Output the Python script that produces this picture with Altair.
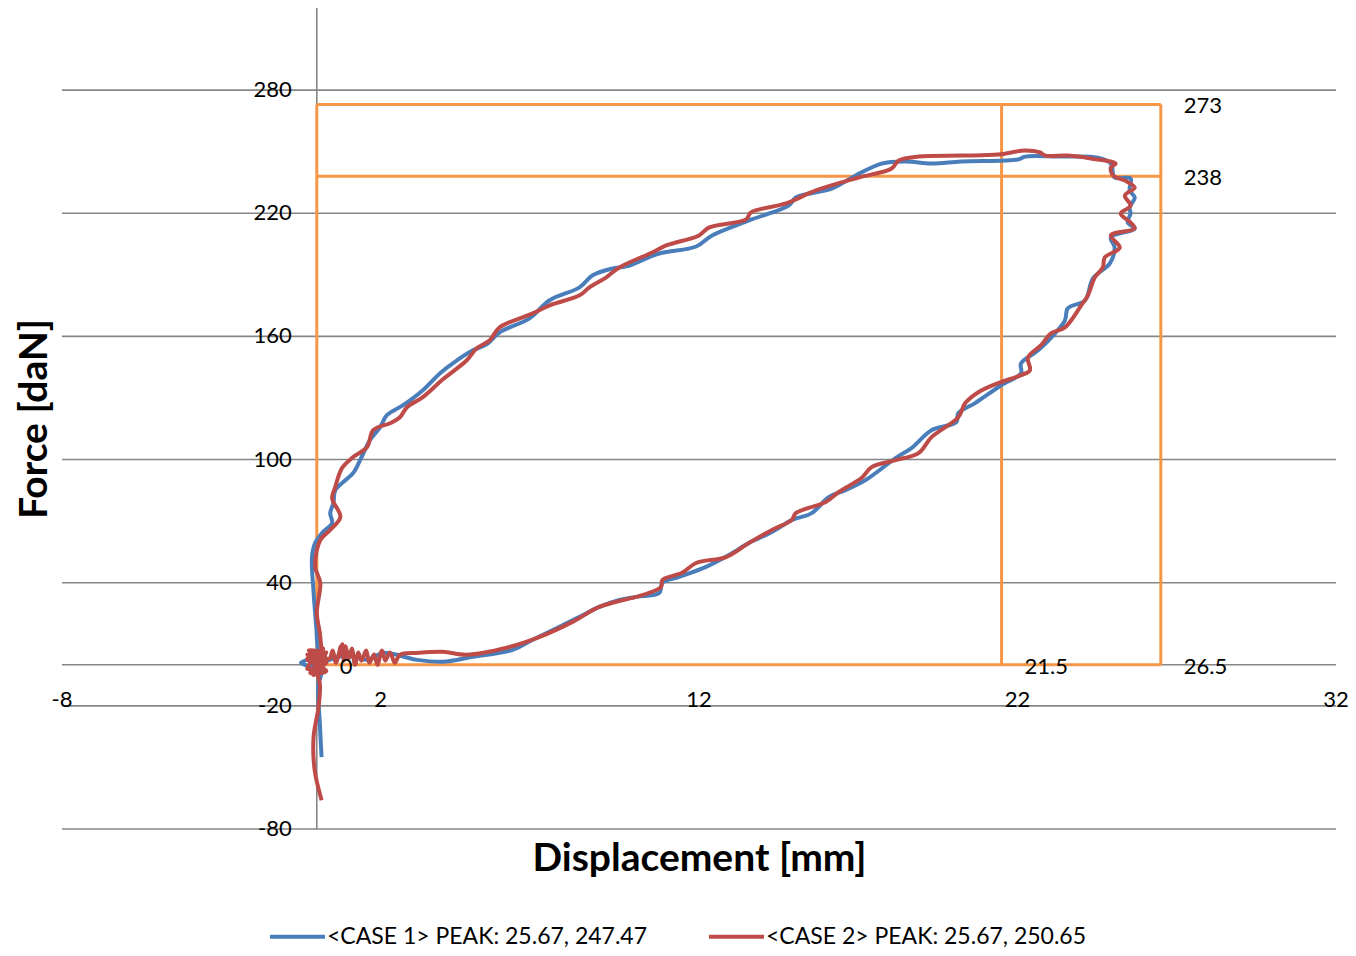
import altair as alt
import pandas as pd

# ---------------- data ----------------
SERIES_NAMES = ["<CASE 1> PEAK: 25.67, 247.47", "<CASE 2> PEAK: 25.67, 250.65"]
SERIES_COLORS = ["#4A7EBB", "#BE4B48"]

X_TICKS = [-8, 2, 12, 22, 32]
Y_TICKS = [-80, -20, 40, 100, 160, 220, 280]
ZERO_LINE = [0]

# guide box (orange) : segments x, y, x2, y2
BOX_X = [0, 21.5, 26.5, 0, 0, 0]
BOX_Y = [0, 0, 0, 0, 238, 273]
BOX_X2 = [0, 21.5, 26.5, 26.5, 26.5, 26.5]
BOX_Y2 = [273, 273, 273, 0, 238, 273]

NOTE_X = [0, 21.5, 26.5, 26.5, 26.5]
NOTE_Y = [0, 0, 0, 273, 238]
NOTE_TEXT = ["0", "21.5", "26.5", "273", "238"]

CASE1 = [
    (0.1, 0), (-0.2, 3), (0.2, -2), (-0.5, 1), (0.25, 4), (-0.2, -1), (0.0, 1), (0.0, 13.8),
    (-0.1, 35.0),
    (-0.15, 52.7), (-0.05, 59.4), (0.2, 64.8), (0.48, 69.1), (0.42, 73.9), (0.52, 78.8),
    (0.58, 85.1), (0.79, 88.5), (1.14, 93.4), (1.36, 99.7), (1.67, 109.5), (1.99, 115.8),
    (2.2, 121.6), (2.71, 126.5), (3.33, 133.8), (3.87, 142.1), (4.27, 146.9), (4.9, 153.2),
    (5.34, 156.2), (5.74, 162.0), (6.68, 168.8), (7.31, 177.6), (8.25, 183.9), (8.65, 189.7),
    (9.28, 193.1), (9.72, 194.1), (10.75, 200.4), (11.91, 203.8), (12.41, 209.2),
    (13.57, 216.5), (14.82, 223.8), (15.04, 227.7), (16.17, 232.0), (16.92, 238.4),
    (17.73, 244.2), (18.48, 245.2), (19.3, 244.2), (20.24, 245.2), (22.02, 246.2),
    (22.24, 247.6), (23.27, 247.6), (24.52, 247.1), (24.93, 244.2), (25.05, 237.4),
    (25.55, 236.9), (25.52, 231.1), (25.68, 227.7), (25.52, 222.8), (25.55, 219.9),
    (25.46, 215.5), (25.68, 212.6), (24.93, 208.2), (25.05, 203.3), (24.9, 195.6),
    (24.37, 188.3), (24.12, 177.6), (23.58, 173.7), (23.49, 167.8), (23.18, 161.5),
    (22.65, 153.2), (22.11, 146.9), (22.11, 142.0), (21.49, 136.2), (20.67, 127.5),
    (20.14, 122.6), (20.08, 118.2), (19.3, 114.3), (18.67, 105.6), (18.17, 100.7),
    (17.23, 90.0), (16.6, 85.1), (16.07, 81.7), (15.54, 73.9), (14.91, 70.5), (14.29, 64.7),
    (13.57, 59.4), (12.94, 53.5), (12.22, 47.7), (11.38, 42.8), (10.85, 39.9), (10.75, 35.0),
    (10.03, 33.1), (9.5, 31.6), (8.87, 28.2), (8.25, 23.4), (7.62, 18.5), (6.78, 12.2),
    (6.15, 7.3), (4.9, 3.9), (3.96, 1.5), (3.15, 2.4), (2.08, 5.8), (1.6, 2.5), (1.14, 3.9),
    (0.64, 3.9), (0.3, 2), (0.1, 4), (-0.2, 0), (0.15, -2), (0.05, -10), (0.1, -30),
    (0.15, -45),
]

CASE2 = [
    (0.0, 0), (0.3, 6), (-0.3, 3), (0.3, -3), (-0.2, -4), (0.25, 5), (-0.25, 7), (0.3, 1),
    (-0.3, -2), (0.2, 8), (-0.1, -5), (0.3, 3), (-0.3, 5), (0.1, 2),
    (0.11, 13.6), (0.0, 25.3), (0.11, 39.9), (-0.05, 47.7), (0.11, 60.8), (0.42, 65.7),
    (0.74, 72.0), (0.48, 81.2), (0.58, 86.6), (0.79, 95.8), (1.14, 101.2), (1.58, 106.1),
    (1.77, 114.3), (2.3, 117.7), (2.61, 120.6), (2.83, 125.5), (3.33, 130.4), (3.96, 139.1),
    (4.71, 148.4), (5.02, 154.2), (5.43, 158.1), (5.74, 164.4), (6.78, 171.2), (7.31, 175.1),
    (8.25, 180.0), (8.56, 183.9), (9.09, 188.8), (9.5, 193.6), (10.53, 200.9), (10.97, 204.3),
    (12.0, 209.2), (12.32, 213.1), (13.48, 217.0), (13.63, 220.4), (14.73, 224.8),
    (15.67, 231.1), (17.01, 237.4), (18.05, 241.8), (18.27, 245.7), (18.89, 247.6),
    (20.24, 248.1), (21.39, 248.6), (22.24, 250.6), (22.71, 249.6), (22.87, 248.1),
    (23.58, 248.1), (24.3, 246.7), (25.08, 244.2), (24.93, 242.3), (25.0, 238.4),
    (25.37, 235.9), (25.68, 232.5), (25.37, 228.6), (25.55, 223.7), (25.24, 219.9),
    (25.55, 215.5), (25.68, 212.6), (24.93, 209.2), (25.21, 203.3), (24.74, 198.5),
    (24.68, 193.6), (24.43, 188.8), (24.21, 180.0), (24.0, 175.1), (23.49, 164.4),
    (23.05, 161.5), (22.74, 155.7), (22.33, 149.8), (22.39, 143.5), (22.11, 141.1),
    (21.39, 137.2), (20.77, 132.8), (20.36, 127.5), (20.14, 120.6), (19.3, 110.9),
    (18.89, 103.1), (18.17, 99.7), (17.42, 96.3), (17.1, 91.0), (16.39, 84.2), (15.98, 79.3),
    (15.04, 73.9), (14.91, 70.5), (14.29, 65.7), (13.57, 59.4), (12.85, 52.5), (11.91, 49.6),
    (11.47, 44.8), (10.85, 41.3), (10.81, 37.9), (10.03, 33.1), (9.9, 32.6), (8.87, 28.2),
    (8.03, 20.9), (7.0, 13.6), (5.96, 8.3), (4.71, 4.9), (3.96, 6.3), (3.15, 5.8), (2.61, 4.9),
    (2.45, 1), (2.3, 6), (2.15, 2), (2.05, 7), (1.9, 0), (1.8, 5), (1.65, 1), (1.55, 7),
    (1.4, 2), (1.3, 6), (1.2, 0), (1.1, 8), (1.0, 3), (0.9, 9), (0.85, 2), (0.8, 10),
    (0.7, 4), (0.75, 9), (0.6, 1), (0.5, 7), (0.4, 3), (0.2, 2), (0.0, -1),
    (0.1, -10), (0.05, -21), (-0.1, -35), (-0.07, -51), (0.15, -66),
]

X_TITLE = "Displacement [mm]"
Y_TITLE = "Force [daN]"
FONT = "Lato"

# ---------------- frames ----------------
def series_frame(points, name):
    df = pd.DataFrame(points, columns=["x", "y"])
    df["i"] = range(len(df))
    df["series"] = name
    return df

df1 = series_frame(CASE1, SERIES_NAMES[0])
df2 = series_frame(CASE2, SERIES_NAMES[1])
grid_df = pd.DataFrame({"y": Y_TICKS + ZERO_LINE})
yaxis_df = pd.DataFrame({"x": [0]})
box_df = pd.DataFrame({"x": BOX_X, "y": BOX_Y, "x2": BOX_X2, "y2": BOX_Y2})
xlab_df = pd.DataFrame({"x": X_TICKS, "y": [-20] * len(X_TICKS), "t": [str(v) for v in X_TICKS]})
ylab_df = pd.DataFrame({"x": [0] * len(Y_TICKS), "y": Y_TICKS, "t": [str(v) for v in Y_TICKS]})
note_df = pd.DataFrame({"x": NOTE_X, "y": NOTE_Y, "t": NOTE_TEXT})

xs = alt.Scale(domain=[-8, 32], nice=False, zero=False)
ys = alt.Scale(domain=[-80, 320], nice=False, zero=False)
cs = alt.Scale(domain=SERIES_NAMES, range=SERIES_COLORS)

X = lambda f="x": alt.X(f"{f}:Q", scale=xs, title=X_TITLE)
Y = lambda f="y": alt.Y(f"{f}:Q", scale=ys, title=Y_TITLE)

grid = alt.Chart(grid_df).mark_rule(color="#868686", strokeWidth=1.6).encode(y=Y())
yaxis = alt.Chart(yaxis_df).mark_rule(color="#868686", strokeWidth=1.6).encode(x=X())
box = alt.Chart(box_df).mark_rule(color="#F79646", strokeWidth=3).encode(
    x=X(), x2="x2:Q", y=Y(), y2="y2:Q"
)

def line(df):
    return alt.Chart(df).mark_line(strokeWidth=4, interpolate="catmull-rom").encode(
        x=X(), y=Y(), order="i:Q",
        color=alt.Color("series:N", scale=cs, legend=alt.Legend(title=None)),
    )

xlab = alt.Chart(xlab_df).mark_text(font=FONT, fontSize=22, baseline="alphabetic", dy=1, color="black").encode(
    x=X(), y=Y(), text="t:N"
)
ylab = alt.Chart(ylab_df).mark_text(font=FONT, fontSize=22, baseline="middle", align="right", dx=-25, color="black").encode(
    x=X(), y=Y(), text="t:N"
)
notes = alt.Chart(note_df).mark_text(font=FONT, fontSize=22, baseline="middle", align="left", dx=23, dy=2, color="black").encode(
    x=X(), y=Y(), text="t:N"
)

chart = alt.layer(grid, yaxis, box, line(df1), line(df2), xlab, ylab, notes).properties(
    width=1274, height=821,
    padding={"left": 54, "top": 0, "right": 12, "bottom": 119},
    autosize=alt.AutoSizeParams(type="none"),
).configure_view(stroke=None).configure_axis(
    labels=False, ticks=False, domain=False, grid=False,
    titleFont=FONT, titleFontSize=39, titleFontWeight="bold", titleColor="black",
).configure_axisX(titlePadding=10).configure_axisY(titlePadding=8).configure_legend(
    orient="none", legendX=206, legendY=899, direction="horizontal", padding=0,
    symbolType="stroke", symbolSize=3025, symbolStrokeWidth=4,
    labelFont=FONT, labelFontSize=23, labelColor="black", labelLimit=600,
    labelOffset=0, columnPadding=53,
)

chart.save("out.html", embed_options={"renderer": "svg", "actions": False})
